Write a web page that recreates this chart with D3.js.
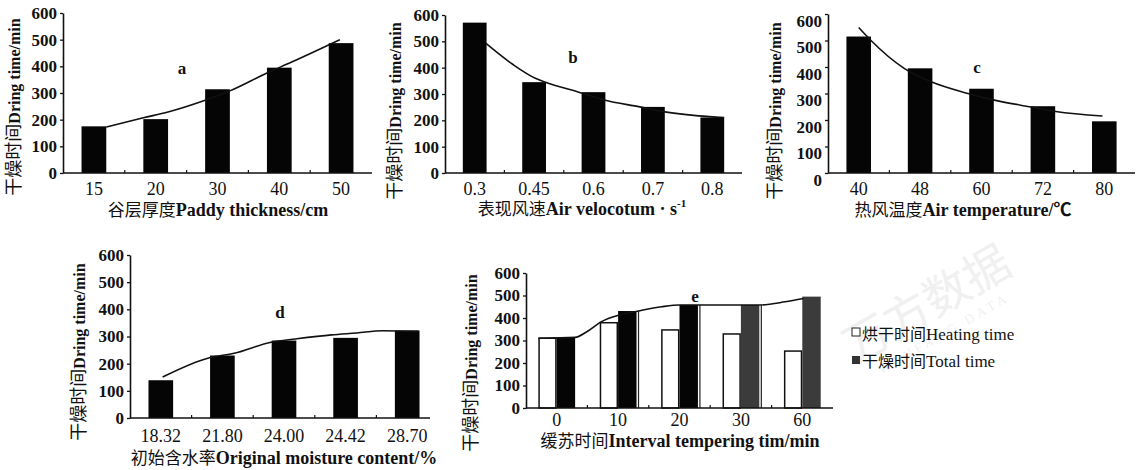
<!DOCTYPE html>
<html>
<head>
<meta charset="utf-8">
<script src="https://cdn.jsdelivr.net/npm/d3@7"></script>
<style>
body { margin: 0; background: #fff; }
svg { display: block; }
text { font-family: "Liberation Serif", "Noto Sans CJK SC", serif; fill: #111; }
.cjk { font-family: "Noto Sans CJK SC", sans-serif; }
</style>
</head>
<body>
<svg id="chart" width="1146" height="470"></svg>
<script>
// values
var yTicks = [0, 100, 200, 300, 400, 500, 600]

var thicknessLabels = ['15', '20', '30', '40', '50']
var thicknessTime = [175, 202, 314, 395, 487]
var thicknessCurve = [[0.2, 172], [0.8, 207], [1.2, 229], [1.8, 273], [2.2, 308], [2.8, 375], [3.2, 416], [3.98, 500]]

var velocityLabels = ['0.3', '0.45', '0.6', '0.7', '0.8']
var velocityTime = [571, 345, 307, 251, 211]
var velocityCurve = [[0.19, 492], [0.65, 411], [1.02, 360], [1.18, 346], [1.78, 305], [2.18, 277], [2.78, 251], [3.2, 232], [3.77, 217], [4.2, 211]]

var temperatureLabels = ['40', '48', '60', '72', '80']
var temperatureTime = [515, 395, 318, 252, 195]
var temperatureCurve = [[0, 549], [0.2, 500], [0.74, 395], [1.19, 343], [1.78, 300], [2.19, 276], [2.81, 249], [3.21, 232], [3.97, 215]]

var moistureLabels = ['18.32', '21.80', '24.00', '24.42', '28.70']
var moistureTime = [139, 230, 285, 295, 322]
var moistureCurve = [[0.03, 151], [0.79, 222], [1.19, 238], [1.79, 279], [2.19, 291], [2.77, 306], [3.18, 313], [3.6, 321], [4.18, 319]]

var temperingLabels = ['0', '10', '20', '30', '60']
var heatingTime = [310, 379, 347, 329, 253]
var totalTime = [312, 431, 458, 458, 495]
var temperingCurve = [[-0.3, 310], [0.3, 314], [0.49, 339], [0.73, 384], [1.02, 413], [1.33, 431], [1.71, 450], [2.0, 458], [3.31, 458], [3.72, 472], [4.02, 487]]

var svg = d3.select('#chart')

// faint watermark of the scan
var wm = svg.append('g').attr('transform', 'translate(935,318) rotate(-30)')
wm.append('text').attr('class', 'cjk').attr('text-anchor', 'middle').attr('font-size', 46).style('fill', '#f0f0f0').text('万方数据')
wm.append('text').attr('text-anchor', 'middle').attr('y', 22).attr('font-size', 13).attr('letter-spacing', 4).style('fill', '#f0f0f0').text('WANFANG DATA')

function mixedText (sel, cjk, latin, cjkSize, latinSize) {
  sel.append('tspan').attr('class', 'cjk').attr('font-size', cjkSize).text(cjk)
  sel.append('tspan').attr('font-size', latinSize).attr('font-weight', 'bold').text(latin)
}

function drawFrame (g, p, x, y) {
  var n = p.labels.length
  var cx = d3.scaleLinear().domain([0, n - 1]).range([x(0) + x.bandwidth() / 2, x(n - 1) + x.bandwidth() / 2])

  var ax = g.append('g').attr('transform', 'translate(' + p.left + ',0)')
    .call(d3.axisLeft(y).tickValues(yTicks).tickSize(3).tickSizeOuter(0).tickPadding(3))
  ax.select('.domain').attr('stroke', '#111').attr('stroke-width', 1.6)
  ax.selectAll('.tick line').attr('stroke', '#111').attr('stroke-width', 1.3)
  ax.selectAll('.tick text').attr('font-size', 17).attr('font-weight', 'bold')
    .attr('dy', (0.32 * 17 + (p.labelShift || 0)) + 'px').style('font-family', '"Liberation Serif", serif')

  g.append('line').attr('x1', p.left).attr('x2', p.axisEnd).attr('y1', p.bottom).attr('y2', p.bottom)
    .attr('stroke', '#111').attr('stroke-width', 1.6)
  var gap = x.step() - x.bandwidth()
  g.selectAll('line.xt').data(d3.range(1, n)).enter().append('line').attr('class', 'xt')
    .attr('x1', function (i) { return x(i) - gap / 2 }).attr('x2', function (i) { return x(i) - gap / 2 })
    .attr('y1', p.bottom).attr('y2', p.bottom - 3).attr('stroke', '#111').attr('stroke-width', 1.2)

  g.selectAll('text.xl').data(p.labels).enter().append('text').attr('class', 'xl')
    .attr('x', function (d, i) { return cx(i) }).attr('y', p.tickY)
    .attr('text-anchor', 'middle').attr('font-size', 18).text(function (d) { return d })

  g.append('text').attr('x', p.letter[0]).attr('y', p.letter[1]).attr('text-anchor', 'middle')
    .attr('font-size', 17).attr('font-weight', 'bold').text(p.letter[2])

  var yt = g.append('text').attr('text-anchor', 'middle').attr('dy', '0.35em')
    .attr('transform', 'translate(' + p.yTitle[0] + ',' + p.yTitle[1] + ') rotate(-90)')
  mixedText(yt, '干燥时间', 'Dring time/min', 18, 16)

  var xt = g.append('text').attr('x', p.xTitle[0]).attr('y', p.xTitle[1]).attr('text-anchor', 'middle')
  mixedText(xt, p.xCjk, p.xLatin, 17, 18)
  if (p.xSup) xt.append('tspan').attr('font-size', 11).attr('font-weight', 'bold').attr('dy', -8).text(p.xSup)

  return cx
}

function drawCurve (g, curve, cx, y) {
  var line = d3.line().x(function (d) { return cx(d[0]) }).y(function (d) { return y(d[1]) }).curve(d3.curveMonotoneX)
  g.append('path').datum(curve).attr('d', line).attr('fill', 'none').attr('stroke', '#111').attr('stroke-width', 1.6)
}

function drawPanel (p) {
  var g = svg.append('g')
  var x = d3.scaleBand().domain(d3.range(p.labels.length)).range([p.left, p.right]).paddingInner(0.6).paddingOuter(0.3)
  var y = d3.scaleLinear().domain([0, 600]).range([p.bottom, p.top])

  g.selectAll('rect.bar').data(p.values).enter().append('rect').attr('class', 'bar')
    .attr('x', function (d, i) { return x(i) }).attr('y', function (d) { return y(d) })
    .attr('width', x.bandwidth()).attr('height', function (d) { return p.bottom - y(d) })
    .attr('fill', '#050505')

  var cx = drawFrame(g, p, x, y)
  drawCurve(g, p.curve, cx, y)
}

function drawTempering (p) {
  var g = svg.append('g')
  var x = d3.scaleBand().domain(d3.range(p.labels.length)).range([p.left, p.right]).paddingInner(0.4).paddingOuter(0.2)
  var sub = d3.scaleBand().domain([0, 1]).range([0, x.bandwidth()])
  var y = d3.scaleLinear().domain([0, 600]).range([p.bottom, p.top])
  var cx = d3.scaleLinear().domain([0, p.labels.length - 1]).range([x(0) + x.bandwidth() / 2, x(p.labels.length - 1) + x.bandwidth() / 2])
  var curveAt = d3.scaleLinear().domain(p.curve.map(function (d) { return cx(d[0]) })).range(p.curve.map(function (d) { return d[1] }))

  // outlines left over between the groups in the scan
  g.selectAll('line.gap').data([1, 2, 3]).enter().append('line').attr('class', 'gap')
    .attr('x1', function (i) { return x(i) + x.bandwidth() + 2 }).attr('x2', function (i) { return x(i) + x.bandwidth() + 2 })
    .attr('y1', p.bottom).attr('y2', function (i) { return y(curveAt(x(i) + x.bandwidth() + 2)) })
    .attr('stroke', '#222').attr('stroke-width', 1.2)

  g.selectAll('rect.heat').data(p.heating).enter().append('rect').attr('class', 'heat')
    .attr('x', function (d, i) { return x(i) + sub(0) + 0.8 }).attr('y', function (d) { return y(d) })
    .attr('width', sub.bandwidth() - 1.6).attr('height', function (d) { return p.bottom - y(d) })
    .attr('fill', '#fff').attr('stroke', '#111').attr('stroke-width', 1.5)

  g.selectAll('rect.total').data(p.total).enter().append('rect').attr('class', 'total')
    .attr('x', function (d, i) { return x(i) + sub(1) }).attr('y', function (d) { return y(d) })
    .attr('width', sub.bandwidth()).attr('height', function (d) { return p.bottom - y(d) })
    .attr('fill', function (d, i) { return i < 3 ? '#050505' : '#3b3b3b' })

  drawFrame(g, p, x, y)
  drawCurve(g, p.curve, cx, y)

  var lg = svg.append('g')
  lg.append('rect').attr('x', 852).attr('y', 328).attr('width', 8).attr('height', 8)
    .attr('fill', '#fff').attr('stroke', '#222').attr('stroke-width', 1)
  lg.append('rect').attr('x', 852).attr('y', 356).attr('width', 8).attr('height', 8).attr('fill', '#333')
  var t1 = lg.append('text').attr('x', 862).attr('y', 340)
  t1.append('tspan').attr('class', 'cjk').attr('font-size', 16).text('烘干时间')
  t1.append('tspan').attr('font-size', 17).text('Heating time')
  var t2 = lg.append('text').attr('x', 862).attr('y', 367)
  t2.append('tspan').attr('class', 'cjk').attr('font-size', 16).text('干燥时间')
  t2.append('tspan').attr('font-size', 17).text('Total time')
}

drawPanel({
  labels: thicknessLabels, values: thicknessTime, curve: thicknessCurve,
  left: 63, right: 372, axisEnd: 372, bottom: 173, top: 13, tickY: 195,
  letter: [182, 74, 'a'], yTitle: [14, 107], xTitle: [218, 216],
  xCjk: '谷层厚度', xLatin: 'Paddy thickness/cm'
})

drawPanel({
  labels: velocityLabels, values: velocityTime, curve: velocityCurve,
  left: 445, right: 742, axisEnd: 742, bottom: 173, top: 15, tickY: 195,
  letter: [573, 63, 'b'], yTitle: [395, 111], xTitle: [582, 215],
  xCjk: '表现风速', xLatin: 'Air velocotum · s', xSup: '-1'
})

drawPanel({
  labels: temperatureLabels, values: temperatureTime, curve: temperatureCurve,
  left: 828, right: 1135, axisEnd: 1135, bottom: 173, top: 14, tickY: 195, labelShift: 7,
  letter: [977, 73, 'c'], yTitle: [775, 111], xTitle: [963, 216],
  xCjk: '热风温度', xLatin: 'Air temperature/℃'
})

drawPanel({
  labels: moistureLabels, values: moistureTime, curve: moistureCurve,
  left: 130, right: 438, axisEnd: 430, bottom: 418, top: 255, tickY: 442,
  letter: [280, 318, 'd'], yTitle: [79, 352], xTitle: [284, 464],
  xCjk: '初始含水率', xLatin: 'Original moisture content/%'
})

drawTempering({
  labels: temperingLabels, heating: heatingTime, total: totalTime, curve: temperingCurve,
  left: 526, right: 833, axisEnd: 833, bottom: 408, top: 273, tickY: 426,
  letter: [695, 302, 'e'], yTitle: [471, 363], xTitle: [680, 447],
  xCjk: '缓苏时间', xLatin: 'Interval tempering tim/min'
})
</script>
</body>
</html>
